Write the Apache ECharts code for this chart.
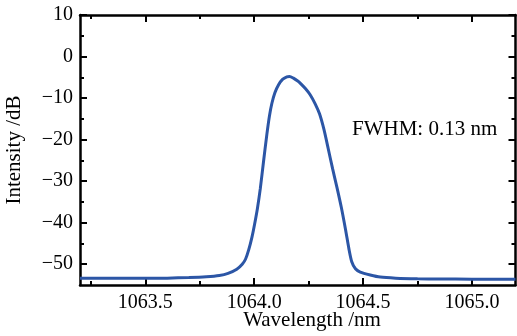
<!DOCTYPE html>
<html>
<head>
<meta charset="utf-8">
<script src="https://cdn.jsdelivr.net/npm/echarts@6/dist/echarts.min.js"></script>
<style>
html,body{margin:0;padding:0;background:#fff;}
#c{width:517px;height:336px;}
</style>
</head>
<body>
<div id="c"></div>
<script>
var wavelength = [1063.2,1063.3,1063.4,1063.5,1063.6,1063.7,1063.78,1063.84,1063.88,1063.92,1063.945,1063.96,1063.975,1063.99,1064.002,1064.015,1064.028,1064.043,1064.058,1064.07,1064.081,1064.095,1064.112,1064.13,1064.15,1064.162,1064.18,1064.2,1064.211,1064.235,1064.257,1064.28,1064.30,1064.32,1064.34,1064.36,1064.38,1064.40,1064.42,1064.435,1064.448,1064.465,1064.487,1064.533,1064.579,1064.65,1064.75,1064.85,1065.0,1065.2];
var intensity = [-53.4,-53.4,-53.4,-53.4,-53.35,-53.2,-53.0,-52.7,-52.2,-51.2,-50.0,-48.8,-46.5,-43.4,-40.3,-36.5,-31.8,-25.2,-18.8,-14.3,-11.3,-8.7,-6.8,-5.5,-4.9,-4.8,-5.2,-5.9,-6.4,-7.7,-9.2,-11.4,-13.8,-17.5,-22.2,-27.0,-31.5,-36.3,-41.8,-46.3,-49.4,-51.1,-51.9,-52.6,-53.1,-53.35,-53.5,-53.55,-53.6,-53.6];
var xMajorTicks = [1063.5,1064.0,1064.5,1065.0];
var xMinorTicks = [1063.25,1063.75,1064.25,1064.75];
var yMajorTicks = [10,0,-10,-20,-30,-40,-50];
var yMinorTicks = [5,-5,-15,-25,-35,-45];
var xTitle = 'Wavelength /nm';
var yTitle = 'Intensity /dB';
var note = 'FWHM: 0.13 nm';

var FONT = '"Liberation Serif", "DejaVu Serif", serif';
var data = wavelength.map(function(w,i){return [w, intensity[i]];});

function xAxisDef(pos, ticks, len, showLine, showLabel){
  return {
    type:'value', position:pos, min:1063.2, max:1065.2,
    axisLine:{show:showLine, onZero:false, lineStyle:{color:'#000', width:2.5}},
    axisTick:{show:true, inside:true, length:len, customValues:ticks, lineStyle:{color:'#000', width:2}},
    axisLabel:{show:showLabel, customValues:ticks, formatter:function(v){return v.toFixed(1);}, fontFamily:FONT, fontSize:20, color:'#000', margin:8},
    splitLine:{show:false}
  };
}
function yAxisDef(pos, ticks, len, showLine, showLabel){
  return {
    type:'value', position:pos, min:-55, max:10,
    axisLine:{show:showLine, onZero:false, lineStyle:{color:'#000', width:2.5}},
    axisTick:{show:true, inside:true, length:len, customValues:ticks, lineStyle:{color:'#000', width:2}},
    axisLabel:{show:showLabel, customValues:ticks, formatter:function(v){return v<0 ? '\u2212'+Math.abs(v) : String(v);}, fontFamily:FONT, fontSize:20, color:'#000', margin:7},
    splitLine:{show:false}
  };
}

var chart = echarts.init(document.getElementById('c'));
chart.setOption({
  backgroundColor:'#fff',
  animation:false,
  grid:{left:80, right:1.5, top:15, bottom:51},
  xAxis:[
    xAxisDef('bottom', xMajorTicks, 7, true, true),
    xAxisDef('bottom', xMinorTicks, 4, false, false),
    xAxisDef('top', xMajorTicks, 7, true, false),
    xAxisDef('top', xMinorTicks, 4, false, false)
  ],
  yAxis:[
    yAxisDef('left', yMajorTicks, 7, true, true),
    yAxisDef('left', yMinorTicks, 4, false, false),
    yAxisDef('right', yMajorTicks, 7, true, false),
    yAxisDef('right', yMinorTicks, 4, false, false)
  ],
  series:[{
    type:'line', xAxisIndex:0, yAxisIndex:0, data:data,
    showSymbol:false, smooth:0.25,
    lineStyle:{color:'#2c56a6', width:3},
    clip:true
  }],
  graphic:[
    {type:'text', x:312, y:320, style:{text:xTitle, font:'21px '+FONT, fill:'#000', textAlign:'center', textVerticalAlign:'middle'}},
    {type:'text', x:14, y:150, rotation:Math.PI/2, style:{text:yTitle, font:'21px '+FONT, fill:'#000', textAlign:'center', textVerticalAlign:'middle'}},
    {type:'text', x:352, y:129, style:{text:note, font:'21px '+FONT, fill:'#000', textAlign:'left', textVerticalAlign:'middle'}}
  ]
});
</script>
</body>
</html>
